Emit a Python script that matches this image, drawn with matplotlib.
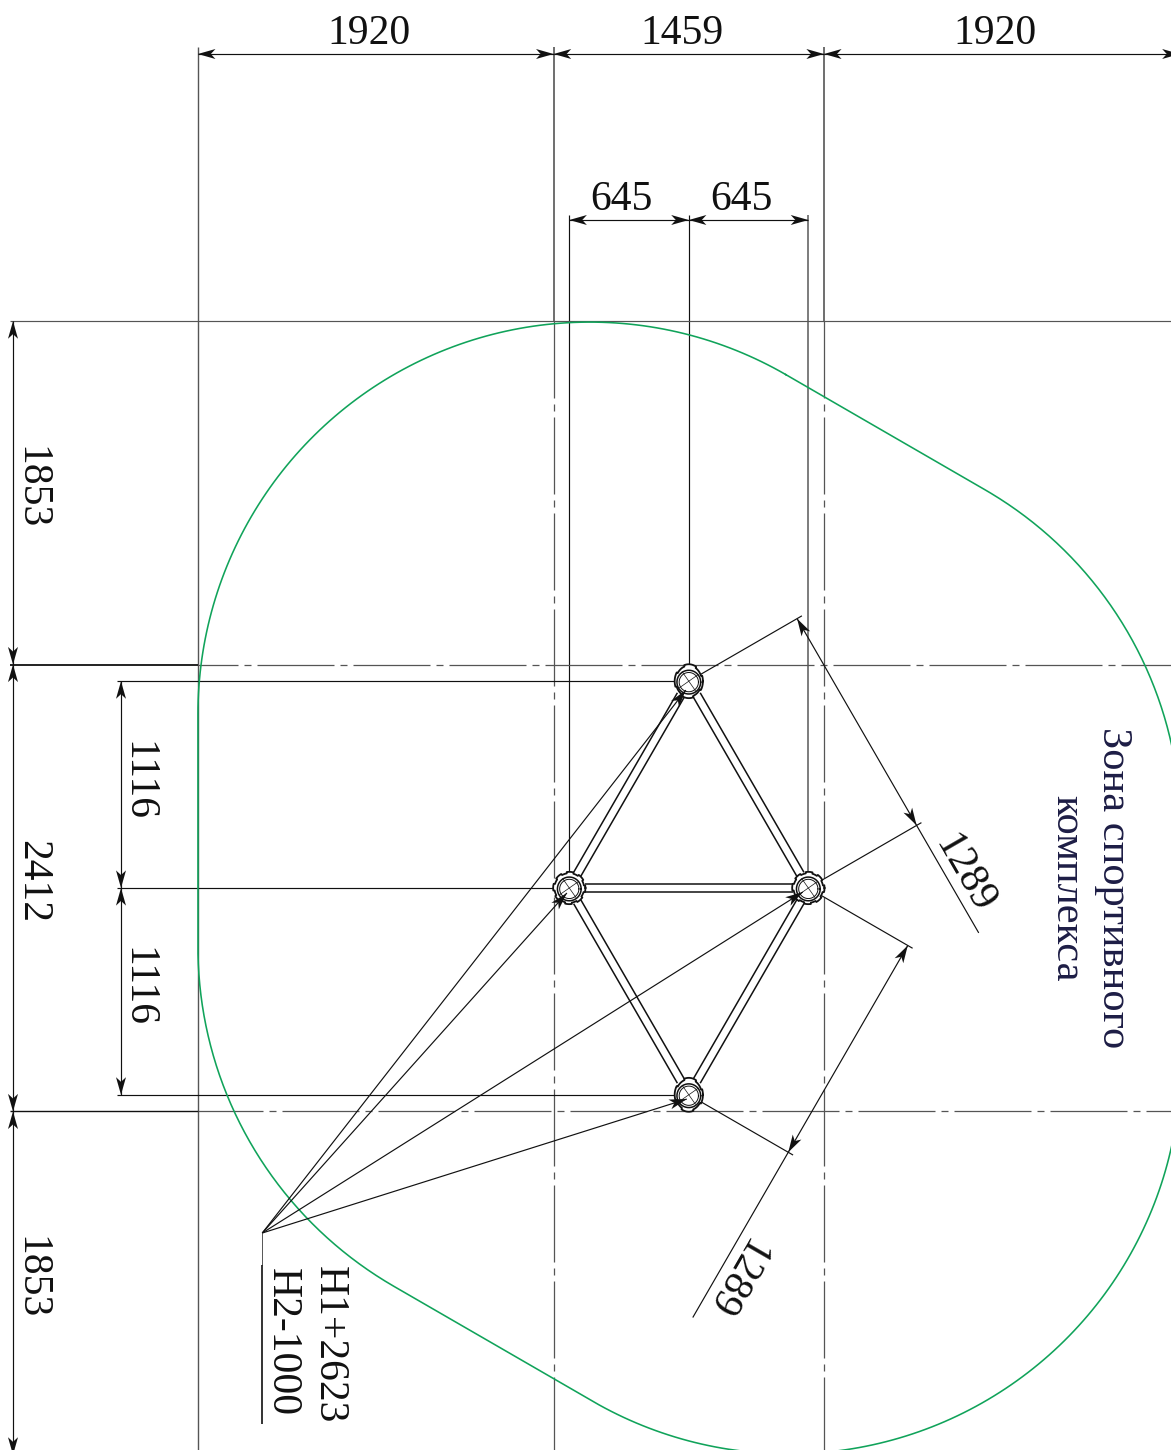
import numpy as np
import matplotlib
matplotlib.use("Agg")
import matplotlib.pyplot as plt

plt.rcParams["font.family"] = ["Liberation Serif", "DejaVu Serif"]

# drawing dimensions in mm, origin between the two middle nodes
top_dims = [1920, 1459, 1920]
inner_dims = [645, 645]
left_dims = [1853, 2412, 1853]
row_dims = [1116, 1116]
side_dim = 1289

nodes_x = [0, -645, 645, 0]
nodes_y = [1116, 0, 0, -1116]
struts = [(0, 1), (0, 2), (1, 2), (1, 3), (2, 3)]

zone_cx = [-534, -534, 540, 540]
zone_cy = [939, -318, -939, 318]
zone_a0 = [60, 180, 240, 0]
zone_a1 = [180, 240, 360, 60]
zone_r = 2115

leader_x = -2302
leader_y = -1862
leader_end = -2894
tips_x = [-16, -658, 615, -11]
tips_y = [1068, -27, -22, -1139]

notes = ["H1+2623", "H2-1000"]
zone_text = ["Зона спортивного", "комплекса"]

S = 0.1853  # px per mm
X0, Y0 = 688.8, 888
W, H = 1171, 1450


def mx(px):
    return (px - X0) / S


def my(py):
    return (Y0 - py) / S


fig = plt.figure(figsize=(W / 100, H / 100), dpi=100)
ax = fig.add_axes([0, 0, 1, 1])
ax.set_xlim(mx(0), mx(W))
ax.set_ylim(my(H), my(0))
ax.axis("off")

INK = "#111111"
GREY = "#555555"


def dashdot(offset_px=0):
    # 77 px dash, 6 gap, 7 dot, 6 gap, at lw 0.9
    return (offset_px * 0.8, (61.6, 4.8, 5.6, 4.8))


def line(x, y, lw=0.85, color=INK, **kw):
    ax.plot(x, y, color=color, lw=lw, solid_capstyle="butt", **kw)


def arrow(tx, ty, ux, uy, zorder=2):
    # notched arrow head, tip at tx,ty pointing along ux,uy
    n = np.hypot(ux, uy)
    ux, uy = ux / n, uy / n
    L, B, N = 95, 27, 70
    px_, py_ = -uy, ux
    xs = [tx, tx - L * ux + B * px_, tx - N * ux, tx - L * ux - B * px_]
    ys = [ty, ty - L * uy + B * py_, ty - N * uy, ty - L * uy - B * py_]
    ax.fill(xs, ys, color=INK, lw=0, zorder=zorder)


def dim(x0, y0, x1, y1):
    # dimension line with arrows inside
    line([x0, x1], [y0, y1])
    arrow(x0, y0, x0 - x1, y0 - y1)
    arrow(x1, y1, x1 - x0, y1 - y0)


def label(txt, px, py, rot=0, color="#111111", size=30):
    ax.text(mx(px), my(py), txt, fontsize=size, rotation=rot, rotation_mode="anchor",
            ha="center", va="baseline", color=color)


# sizes from the dimensions
half_mid = top_dims[1] / 2
left_out = -half_mid - top_dims[0]
right_out = half_mid + top_dims[2]
half_row = left_dims[1] / 2
top_out = half_row + left_dims[0]
bot_out = -half_row - left_dims[2]

y_top_dim = my(54)
y_inner_dim = my(220)
x_left_dim = mx(13)
x_row_dim = mx(121)
y_end = my(H)
x_end = mx(W)

# vertical extension lines
line([left_out, left_out], [my(47), y_end], color=GREY, lw=1.0)
line([-half_mid, -half_mid], [my(47), top_out], color=GREY, lw=1.2)
line([half_mid, half_mid], [my(47), top_out], color=GREY, lw=1.2)
line([-half_mid, -half_mid], [top_out, y_end], color=GREY, lw=0.9, ls=dashdot())
line([half_mid, half_mid], [top_out, y_end], color=GREY, lw=0.9, ls=dashdot())
line([-645, -645], [my(215), 0])
line([645, 645], [my(215), 0], color="#666666", lw=1.2)
line([0, 0], [my(215), nodes_y[0]])

# horizontal extension lines
line([mx(10), x_end], [top_out, top_out], color=GREY)
line([mx(10), left_out], [half_row, half_row], lw=1.3)
line([mx(10), left_out], [-half_row, -half_row], lw=1.0)
line([left_out, x_end], [half_row, half_row], color=GREY, lw=0.9, ls=dashdot(37))
line([left_out, x_end], [-half_row, -half_row], color=GREY, lw=0.9, ls=dashdot(12))
line([mx(117), 0], [nodes_y[0], nodes_y[0]])
line([mx(117), -645], [0, 0])
line([mx(117), 0], [nodes_y[3], nodes_y[3]])

# top dimensions
xs = np.cumsum([left_out] + top_dims)
for a, b in zip(xs[:-1], xs[1:]):
    dim(a, y_top_dim, b, y_top_dim)
dim(-645, y_inner_dim, 0, y_inner_dim)
dim(0, y_inner_dim, 645, y_inner_dim)

# left dimensions
ys = [top_out, half_row, -half_row, bot_out]
for a, b in zip(ys[:-1], ys[1:]):
    dim(x_left_dim, a, x_left_dim, b)
dim(x_row_dim, nodes_y[0], x_row_dim, 0)
dim(x_row_dim, 0, x_row_dim, nodes_y[3])

# slanted 1289 dimensions
ux, uy = 645 / side_dim, -1116 / side_dim
nx, ny = 1116 / side_dim, 645 / side_dim
off, ext = 675, 705
line([nodes_x[0], nodes_x[0] + ext * nx], [nodes_y[0], nodes_y[0] + ext * ny])
line([nodes_x[2], nodes_x[2] + ext * nx], [nodes_y[2], nodes_y[2] + ext * ny])
ax0, ay0 = nodes_x[0] + off * nx, nodes_y[0] + off * ny
ax1, ay1 = nodes_x[2] + off * nx, nodes_y[2] + off * ny
dim(ax0, ay0, ax1, ay1)
line([ax1, ax1 + 670 * ux], [ay1, ay1 + 670 * uy])

ux, uy = -645 / side_dim, -1116 / side_dim
nx, ny = 1116 / side_dim, -645 / side_dim
off, ext = 620, 650
line([nodes_x[2], nodes_x[2] + ext * nx], [nodes_y[2], nodes_y[2] + ext * ny])
line([nodes_x[3], nodes_x[3] + ext * nx], [nodes_y[3], nodes_y[3] + ext * ny])
ax0, ay0 = nodes_x[2] + off * nx, nodes_y[2] + off * ny
ax1, ay1 = nodes_x[3] + off * nx, nodes_y[3] + off * ny
dim(ax0, ay0, ax1, ay1)
line([ax1, ax1 + 1030 * ux], [ay1, ay1 + 1030 * uy])

# zone outline
zx, zy = [], []
for cx, cy, a0, a1 in zip(zone_cx, zone_cy, zone_a0, zone_a1):
    t = np.radians(np.linspace(a0, a1, 120))
    zx.extend(cx + zone_r * np.cos(t))
    zy.extend(cy + zone_r * np.sin(t))
ax.plot(zx + zx[:1], zy + zy[:1], color="#10a35a", lw=1.15)

# struts
for i, j in struts:
    dx, dy = nodes_x[j] - nodes_x[i], nodes_y[j] - nodes_y[i]
    n = np.hypot(dx, dy)
    dx, dy = dx / n, dy / n
    for s in (-22, 22):
        line([nodes_x[i] + 85 * dx - s * dy, nodes_x[j] - 85 * dx - s * dy],
             [nodes_y[i] + 85 * dy + s * dx, nodes_y[j] - 85 * dy + s * dx], lw=1.1)

# node heads with a toothed rim
for k, (x, y) in enumerate(zip(nodes_x, nodes_y)):
    wide = k in (1, 2)
    rx, ry = (80, 80) if wide else (70, 84)
    teeth = 8 if wide else 4
    t = np.radians(np.arange(0, 360.5, 1.0))
    r = 1 + 0.09 * (np.cos(teeth * t + 0.4) > -0.2)
    ox, oy = x + rx * r * np.cos(t), y + ry * r * np.sin(t)
    ax.fill(ox, oy, color="white", zorder=3, lw=0)
    ax.plot(ox, oy, color=INK, lw=1.3, zorder=4)
    for rr, lw in ((64, 1.1), (52, 0.7)):
        ax.plot(x + rr * np.cos(t), y + rr * np.sin(t) - 5, color=INK, lw=lw, zorder=4)
    for a in (35, 125):
        c, s = 62 * np.cos(np.radians(a)), 62 * np.sin(np.radians(a))
        ax.plot([x - c, x + c], [y - s, y + s], color=INK, lw=0.5, zorder=4)

# leaders from the note to each node
for tx, ty in zip(tips_x, tips_y):
    line([leader_x, tx], [leader_y, ty], zorder=5)
    arrow(tx, ty, tx - leader_x, ty - leader_y, zorder=5)
line([leader_x, leader_x], [leader_y, my(1265)], lw=0.7, color=GREY)
line([leader_x, leader_x], [my(1265), leader_end], lw=1.2)

# labels
for txt, px in zip(top_dims, (369, 682, 995)):
    label(str(txt), px, 44)
for txt, px in zip(inner_dims, (621, 741)):
    label(str(txt), px, 210)
for txt, py, bx in zip(left_dims, (488, 881, 1278), (20, 22, 20)):
    label(str(txt), bx, py, rot=270)
for txt, py in zip(row_dims, (781, 987)):
    label(str(txt), 127, py, rot=270)
label(str(side_dim), 955, 879, rot=-60)
label(str(side_dim), 726, 1272, rot=-120)
label(notes[0], 319, 1345, rot=270)
label(notes[1], 272, 1342, rot=270)
label(zone_text[0], 1103, 888, rot=270, color="#1d1d45", size=30.6)
label(zone_text[1], 1056, 888.5, rot=270, color="#1d1d45", size=30.6)

fig.savefig("out.png", dpi=100)
